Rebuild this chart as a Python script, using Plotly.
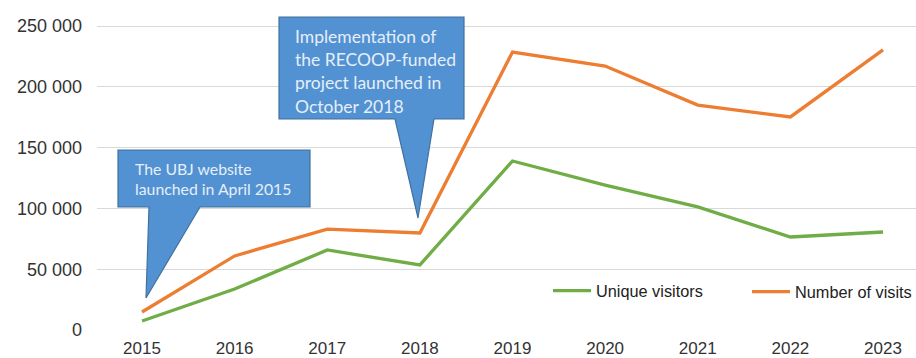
import plotly.graph_objects as go

# ---- data ----
years = [2015, 2016, 2017, 2018, 2019, 2020, 2021, 2022, 2023]
unique_visitors = [7400, 33700, 65800, 53500, 139000, 119200, 101200, 76500, 80600]
number_of_visits = [14800, 60900, 83000, 79800, 228600, 217100, 185000, 175200, 230300]
y_tick_values = [0, 50000, 100000, 150000, 200000, 250000]
y_tick_labels = ["0", "50 000", "100 000", "150 000", "200 000", "250 000"]
callout1_lines = ["The UBJ website", "launched in April 2015"]
callout2_lines = ["Implementation of", "the RECOOP-funded", "project launched in", "October 2018"]

GREEN = "#70AD47"
ORANGE = "#ED7D31"
BOX_FILL = "#5292d2"
BOX_LINE = "#41719C"
BOX_TEXT = "#e6eef8"

# ---- layout geometry ----
W, H = 916, 358
ML, MR, MT, MB = 97, 0, 8, 28
X_RANGE = [2014.514, 2023.356]
Y_RANGE = [0, 264803]
plot_w = W - ML - MR
plot_h = H - MT - MB


def px2x(px):
    return X_RANGE[0] + (px - ML) / plot_w * (X_RANGE[1] - X_RANGE[0])


def px2y(py):
    return Y_RANGE[0] + (H - MB - py) / plot_h * (Y_RANGE[1] - Y_RANGE[0])


fig = go.Figure()
fig.add_trace(go.Scatter(x=years, y=unique_visitors, mode="lines", name="Unique visitors",
                         line=dict(color=GREEN, width=3.3), legend="legend"))
fig.add_trace(go.Scatter(x=years, y=number_of_visits, mode="lines", name="Number of visits",
                         line=dict(color=ORANGE, width=3.3), legend="legend2"))


def callout_path(x0, x1, ytop, ybot, b0, b1, ax, ay):
    pts = [(x0, ytop), (x1, ytop), (x1, ybot), (b1, ybot), (ax, ay), (b0, ybot), (x0, ybot)]
    return "M " + " L ".join(f"{px2x(a)},{px2y(b)}" for a, b in pts) + " Z"


shapes = [
    dict(type="path", xref="x", yref="y", layer="above",
         path=callout_path(118, 310, 150, 207, 149, 200, 146, 298),
         fillcolor=BOX_FILL, line=dict(color=BOX_LINE, width=1.2)),
    dict(type="path", xref="x", yref="y", layer="above",
         path=callout_path(279, 464, 17, 119, 395, 434, 418, 218),
         fillcolor=BOX_FILL, line=dict(color=BOX_LINE, width=1.2)),
]

annotations = []
for i, t in enumerate(callout1_lines):
    annotations.append(dict(x=px2x(133), y=px2y(168 + 20.5 * i), xref="x", yref="y", text=t,
                            showarrow=False, xanchor="left", yanchor="middle",
                            font=dict(family="Lato", size=15.8, color=BOX_TEXT)))
for i, t in enumerate(callout2_lines):
    annotations.append(dict(x=px2x(293), y=px2y(36 + 23.4 * i), xref="x", yref="y", text=t,
                            showarrow=False, xanchor="left", yanchor="middle",
                            font=dict(family="Lato", size=17.5, color=BOX_TEXT)))

legend_common = dict(orientation="h", xanchor="left", yanchor="middle",
                     bgcolor="rgba(0,0,0,0)", font=dict(size=16.3, color="#222222"),
                     itemwidth=38, borderwidth=0)

fig.update_layout(
    width=W, height=H,
    margin=dict(l=ML, r=MR, t=MT, b=MB, pad=0, autoexpand=False),
    paper_bgcolor="white", plot_bgcolor="white",
    font=dict(family="Liberation Sans, Arial", color="#333333"),
    shapes=shapes, annotations=annotations,
    showlegend=True,
    legend=dict(x=(548 - ML) / plot_w, y=(H - MB - 291) / plot_h, **legend_common),
    legend2=dict(x=(747 - ML) / plot_w, y=(H - MB - 292) / plot_h, **legend_common),
)
fig.update_xaxes(range=X_RANGE, tickvals=years, ticktext=[str(y) for y in years],
                 showgrid=False, zeroline=False, showline=False, ticklabelstandoff=6,
                 tickfont=dict(size=17, color="#333333"))
fig.update_yaxes(range=Y_RANGE, tickvals=y_tick_values, ticktext=y_tick_labels,
                 showgrid=True, gridcolor="#d9d9d9", gridwidth=1,
                 zeroline=False, showline=False, ticklabelstandoff=14,
                 tickfont=dict(size=18, color="#333333"))

fig.write_html("out.html")
